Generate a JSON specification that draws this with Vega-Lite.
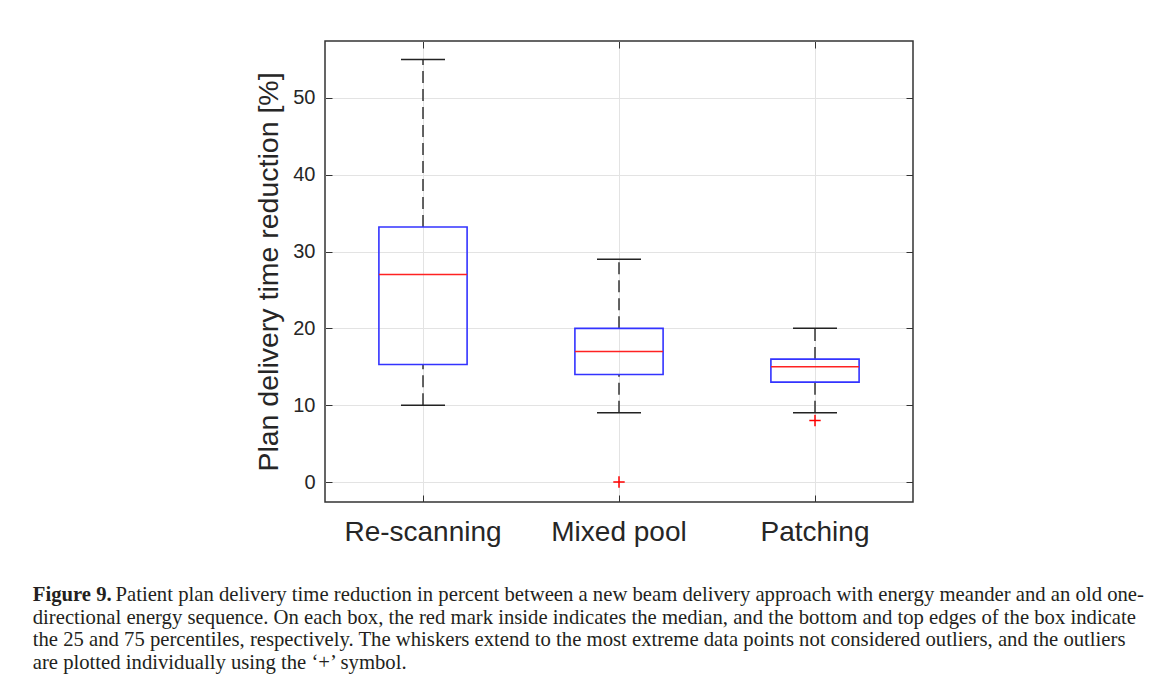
{
  "$schema": "https://vega.github.io/schema/vega-lite/v6.json",
  "width": 588,
  "height": 461,
  "autosize": "none",
  "padding": {"left": 325, "top": 41, "right": 240, "bottom": 187},
  "background": "white",
  "config": {
    "view": {"stroke": "#333333", "strokeWidth": 1.5},
    "font": "Liberation Sans"
  },
  "title": {
    "text": "Figure 9.",
    "subtitle": [
      "\u200b\u00a0\u00a0\u00a0\u00a0\u00a0\u00a0\u00a0\u00a0\u00a0\u00a0\u00a0\u00a0\u00a0\u00a0\u00a0\u00a0Patient plan delivery time reduction in percent between a new beam delivery approach with energy meander and an old one-",
      "directional energy sequence. On each box, the red mark inside indicates the median, and the bottom and top edges of the box indicate",
      "the 25 and 75 percentiles, respectively. The whiskers extend to the most extreme data points not considered outliers, and the outliers",
      "are plotted individually using the \u2018+\u2019 symbol."
    ],
    "orient": "bottom",
    "anchor": "start",
    "frame": "bounds",
    "font": "Liberation Serif",
    "fontSize": 20.7,
    "fontWeight": "bold",
    "color": "#231f20",
    "subtitleFont": "Liberation Serif",
    "subtitleFontSize": 20.7,
    "subtitleColor": "#231f20",
    "subtitleLineHeight": 22.7,
    "subtitlePadding": -20.7,
    "offset": 39,
    "dx": -222
  },
  "datasets": {
    "boxes": [
      {"cat": "Re-scanning", "lower": 10, "q1": 15.3, "median": 27, "q3": 33.2, "upper": 55},
      {"cat": "Mixed pool", "lower": 9, "q1": 14, "median": 17, "q3": 20, "upper": 29},
      {"cat": "Patching", "lower": 9, "q1": 13, "median": 15, "q3": 16, "upper": 20}
    ],
    "outliers": [
      {"cat": "Mixed pool", "value": 0},
      {"cat": "Patching", "value": 8}
    ]
  },
  "resolve": {"axis": {"x": "independent", "y": "independent"}},
  "layer": [
    {
      "data": {"name": "boxes"},
      "mark": {"type": "rule", "stroke": "#333333", "strokeWidth": 1.5, "strokeDash": [12, 6]},
      "encoding": {
        "x": {"field": "cat", "type": "nominal", "sort": null,
              "scale": {"type": "band", "paddingInner": 0, "paddingOuter": 0},
              "axis": {"orient": "top", "labels": false, "title": null, "domain": false, "grid": false,
                       "ticks": true, "tickSize": -7, "tickColor": "#333333", "bandPosition": 0.5}},
        "y": {"field": "lower", "type": "quantitative",
              "scale": {"domain": [-2.6, 57.4], "nice": false, "zero": false},
              "axis": {"orient": "right", "labels": false, "title": null, "domain": false, "grid": false,
                       "values": [0, 10, 20, 30, 40, 50], "tickSize": -7, "tickColor": "#333333"}},
        "y2": {"field": "q1"}
      }
    },
    {
      "data": {"name": "boxes"},
      "mark": {"type": "rule", "stroke": "#333333", "strokeWidth": 1.5, "strokeDash": [12, 6]},
      "encoding": {
        "x": {"field": "cat", "type": "nominal", "sort": null, "axis": null},
        "y": {"field": "q3", "type": "quantitative", "axis": null},
        "y2": {"field": "upper"}
      }
    },
    {
      "data": {"name": "boxes"},
      "mark": {"type": "bar", "fill": "transparent", "stroke": "#3333ff", "strokeWidth": 1.6, "width": {"band": 0.45}},
      "encoding": {
        "x": {"field": "cat", "type": "nominal", "sort": null,
              "axis": {"orient": "bottom", "title": null, "domain": false, "grid": true, "gridColor": "#e3e3e3",
                       "gridWidth": 1, "bandPosition": 0.5, "tickSize": -7, "tickColor": "#333333",
                       "labelAngle": 0, "labelFont": "Liberation Sans", "labelFontSize": 28,
                       "labelColor": "#262626", "labelPadding": 23}},
        "y": {"field": "q1", "type": "quantitative",
              "axis": {"orient": "left", "domain": false, "grid": true, "gridColor": "#e3e3e3", "gridWidth": 1,
                       "values": [0, 10, 20, 30, 40, 50], "tickSize": -7, "tickColor": "#333333",
                       "labelFont": "Liberation Sans", "labelFontSize": 20, "labelColor": "#262626",
                       "labelPadding": 17,
                       "title": "Plan delivery time reduction [%]", "titleFont": "Liberation Sans",
                       "titleFontSize": 28.5, "titleFontWeight": "normal", "titleColor": "#262626",
                       "titlePadding": 9}},
        "y2": {"field": "q3"}
      }
    },
    {
      "data": {"name": "boxes"},
      "mark": {"type": "tick", "color": "#222222", "thickness": 1.5, "size": 44, "opacity": 1},
      "encoding": {
        "x": {"field": "cat", "type": "nominal", "sort": null, "axis": null},
        "y": {"field": "lower", "type": "quantitative", "axis": null}
      }
    },
    {
      "data": {"name": "boxes"},
      "mark": {"type": "tick", "color": "#222222", "thickness": 1.5, "size": 44, "opacity": 1},
      "encoding": {
        "x": {"field": "cat", "type": "nominal", "sort": null, "axis": null},
        "y": {"field": "upper", "type": "quantitative", "axis": null}
      }
    },
    {
      "data": {"name": "boxes"},
      "mark": {"type": "tick", "color": "#ff2222", "thickness": 1.5, "size": 88, "opacity": 1},
      "encoding": {
        "x": {"field": "cat", "type": "nominal", "sort": null, "axis": null},
        "y": {"field": "median", "type": "quantitative", "axis": null}
      }
    },
    {
      "data": {"name": "outliers"},
      "mark": {"type": "point", "shape": "M-1,0H1M0,-1V1", "filled": false, "stroke": "#ff0000", "strokeWidth": 1.5, "size": 130, "opacity": 1},
      "encoding": {
        "x": {"field": "cat", "type": "nominal", "sort": null, "axis": null},
        "y": {"field": "value", "type": "quantitative", "axis": null}
      }
    }
  ]
}
